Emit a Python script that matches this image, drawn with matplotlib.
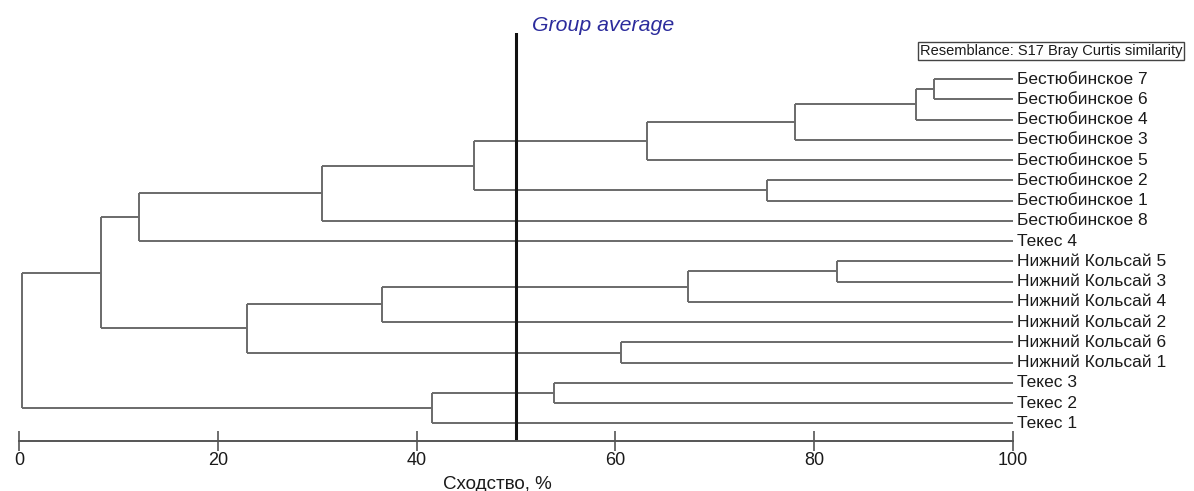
import matplotlib
matplotlib.use('Agg')
import matplotlib.pyplot as plt

plt.rcParams['font.family'] = ['Liberation Sans', 'DejaVu Sans']

# leaves, top to bottom
leaves = ['Бестюбинское 7', 'Бестюбинское 6', 'Бестюбинское 4', 'Бестюбинское 3',
          'Бестюбинское 5', 'Бестюбинское 2', 'Бестюбинское 1', 'Бестюбинское 8',
          'Текес 4', 'Нижний Кольсай 5', 'Нижний Кольсай 3', 'Нижний Кольсай 4',
          'Нижний Кольсай 2', 'Нижний Кольсай 6', 'Нижний Кольсай 1',
          'Текес 3', 'Текес 2', 'Текес 1']

# merges: (node a, node b, similarity %); new node ids continue after the leaves
merge_a = [0, 18, 19, 20, 5, 21, 23, 24, 9, 26, 27, 13, 28, 25, 15, 32, 31]
merge_b = [1, 2, 3, 4, 6, 22, 7, 8, 10, 11, 12, 14, 29, 30, 16, 17, 33]
merge_sim = [92.1, 90.2, 78.1, 63.2, 75.3, 45.8, 30.5, 12.1, 82.3, 67.3, 36.5,
             60.6, 22.9, 8.2, 53.8, 41.5, 0.3]

cut_level = 50
xticks = [0, 20, 40, 60, 80, 100]

W, H = 1194, 491
fig = plt.figure(figsize=(W / 100, H / 100), dpi=100)
ax = fig.add_axes([19 / W, 1 - 441 / H, (1013 - 19) / W, (441 - 33) / H])

line_col = '#6a6a6a'
n = len(leaves)
pos_y = {i: float(i) for i in range(n)}
pos_x = {i: 100.0 for i in range(n)}
for k, (a, b, s) in enumerate(zip(merge_a, merge_b, merge_sim)):
    node = n + k
    ya, yb = pos_y[a], pos_y[b]
    ax.plot([pos_x[a], s], [ya, ya], color=line_col, lw=1.4, solid_capstyle='butt')
    ax.plot([pos_x[b], s], [yb, yb], color=line_col, lw=1.4, solid_capstyle='butt')
    ax.plot([s, s], [ya, yb], color=line_col, lw=1.4, solid_capstyle='butt')
    pos_y[node] = (ya + yb) / 2
    pos_x[node] = s

for i, lab in enumerate(leaves):
    ax.text(100.4, i, lab, va='center', ha='left', fontsize=12.5, color='#1a1a1a')

ax.axvline(cut_level, color='#111111', lw=2.2)
ax.text(cut_level + 1.6, -2.65, 'Group average', fontsize=15.3, style='italic',
        color='#2b2b9c', va='center', ha='left', clip_on=False)

ax.set_xlim(0, 100)
ax.set_ylim((441 - 79) / 20.26, (33 - 79) / 20.26)
for s in ['top', 'left', 'right']:
    ax.spines[s].set_visible(False)
ax.spines['bottom'].set_color('#555555')
ax.spines['bottom'].set_linewidth(1.4)
ax.set_yticks([])
ax.set_xticks(xticks)
ax.tick_params(axis='x', direction='inout', length=14, width=1.2, color='#555555',
               labelsize=13, pad=1, labelcolor='#1a1a1a')
ax.set_xlabel('Сходство, %', fontsize=13.5, color='#1a1a1a')
ax.xaxis.set_label_coords(0.481, -0.085)

fig.text(1051 / W, 1 - 51 / H, 'Resemblance: S17 Bray Curtis similarity', fontsize=10.5,
         ha='center', va='center', color='#1a1a1a',
         bbox=dict(boxstyle='square,pad=0.15', fc='white', ec='#444444', lw=1))

fig.savefig('out.png', dpi=100)
